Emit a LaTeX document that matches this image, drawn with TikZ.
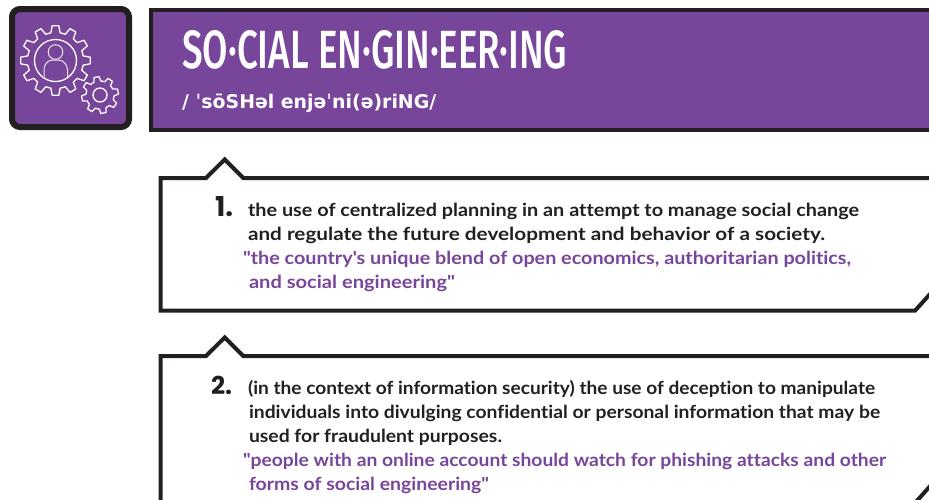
\documentclass[tikz,border=0pt]{standalone}
\usepackage{fontspec}
\usepackage{graphicx}
\newfontfamily\bodyfont{Lato}[UprightFont={* Bold},Ligatures={CommonOff,RequiredOff,ContextualOff}]
\newfontfamily\numfont{Poppins}[UprightFont={* Bold}]
\newfontfamily\titlefont{Fira Sans}[UprightFont={* Medium}]
\newfontfamily\ipafont{DejaVu Sans}[UprightFont={* Bold}]
\usetikzlibrary{calc}
\definecolor{brandpurple}{HTML}{77459A}
\definecolor{inkdark}{HTML}{231F20}
\newcommand{\fitw}[2]{\resizebox{#1pt}{\height}{#2}}
\tikzset{
  frame/.style={draw=inkdark,line width=4pt,line join=miter},
  bodyline/.style={anchor=base west,inner sep=0pt,outer sep=0pt,text=inkdark,font=\bodyfont\fontsize{18}{20}\selectfont},
  quoteline/.style={bodyline,text=brandpurple},
  numeral/.style={anchor=base west,inner sep=0pt,outer sep=0pt,text=inkdark,font=\numfont\fontsize{23}{26}\selectfont},
  gearline/.style={draw=white,line width=1.3pt,line join=round},
  personline/.style={draw=white!85!brandpurple,line width=1pt}
}
\newcommand{\gearpath}[6]{% cx cy rOuter rRoot teeth offset
  \foreach \k in {1,...,#5}{
    \pgfmathsetmacro{\st}{360/#5}
    \pgfmathsetmacro{\a}{(\k-1)*\st+#6}
    \pgfmathsetmacro{\ab}{\a+0.18*\st}
    \pgfmathsetmacro{\ac}{\a+0.32*\st}
    \pgfmathsetmacro{\ad}{\a+0.68*\st}
    \pgfmathsetmacro{\ae}{\a+0.82*\st}
    \pgfmathsetmacro{\af}{\a+\st}
    \draw[gearline,line cap=round] ($(#1,#2)+(\a:#4)$) -- ($(#1,#2)+(\ab:#4)$) -- ($(#1,#2)+(\ac:#3)$) -- ($(#1,#2)+(\ad:#3)$) -- ($(#1,#2)+(\ae:#4)$) -- ($(#1,#2)+(\af:#4)$);
  }
}
\begin{document}
\begin{tikzpicture}[x=1pt,y=-1pt]
\useasboundingbox (0,0) rectangle (929,499);
\clip (0,0) rectangle (929,499);
% badge
\draw[draw=inkdark,fill=brandpurple,line width=6pt,rounded corners=8pt] (12,9) rectangle (129,127);
\gearpath{55.5}{60.5}{35}{28}{12}{15}
\gearpath{100}{95}{18.5}{14}{8}{11.5}
\draw[gearline] (55.5,60.5) circle (21);
\draw[gearline] (100,95) circle (7);
\draw[personline] (55.5,52) circle (7.3);
\begin{scope}
\clip (55.5,60.5) circle (21);
\draw[personline] (44,80) -- (44,70) .. controls (44,64) and (48,60.5) .. (52,60) -- (59,60) .. controls (63,60.5) and (67.5,64) .. (67.5,70) -- (67.5,80);
\end{scope}
% header
\draw[frame,fill=brandpurple] (151,10) rectangle (940,130);
\node[anchor=base west,inner sep=0pt,text=white] (title) at (182,68) {\resizebox{385pt}{38pt}{\titlefont SO·CIAL EN·GIN·EER·ING}};
\node[anchor=base west,inner sep=0pt,text=white] (ipa) at (182,108) {\resizebox{254pt}{!}{\ipafont\fontsize{18}{20}\selectfont / ˈsōSHəl enjəˈni(ə)riNG/}};
% box 1
\draw[frame] (940,283) -- (915,310.7) -- (160.7,310.7) -- (160.7,178) -- (206,178) -- (224.7,159.5) -- (243.3,178) -- (940,178);
\node[numeral] (n1) at (215,216) {\resizebox{18pt}{!}{1.}};
\node[bodyline] (a1) at (248,216) {\fitw{611}{the use of centralized planning in an attempt to manage social change}};
\node[bodyline] (a2) at (248,240) {\fitw{577}{and regulate the future development and behavior of a society.}};
\node[quoteline] (a3) at (243,264) {\fitw{608}{"the country's unique blend of open economics, authoritarian politics,}};
\node[quoteline] (a4) at (249,288) {\fitw{206}{and social engineering"}};
% box 2
\draw[frame] (940,475) -- (915,503) -- (160.7,503) -- (160.7,356) -- (206,356) -- (224.7,337.5) -- (243.3,356) -- (940,356);
\node[numeral] (n2) at (211,394) {\resizebox{21pt}{!}{2.}};
\node[bodyline] (b1) at (248,394) {\fitw{627}{(in the context of information security) the use of deception to manipulate}};
\node[bodyline] (b2) at (249,418) {\fitw{631}{individuals into divulging confidential or personal information that may be}};
\node[bodyline] (b3) at (249,442) {\fitw{253}{used for fraudulent purposes.}};
\node[quoteline] (b4) at (243,466) {\fitw{643}{"people with an online account should watch for phishing attacks and other}};
\node[quoteline] (b5) at (249,490) {\fitw{240}{forms of social engineering"}};
\end{tikzpicture}
\end{document}
